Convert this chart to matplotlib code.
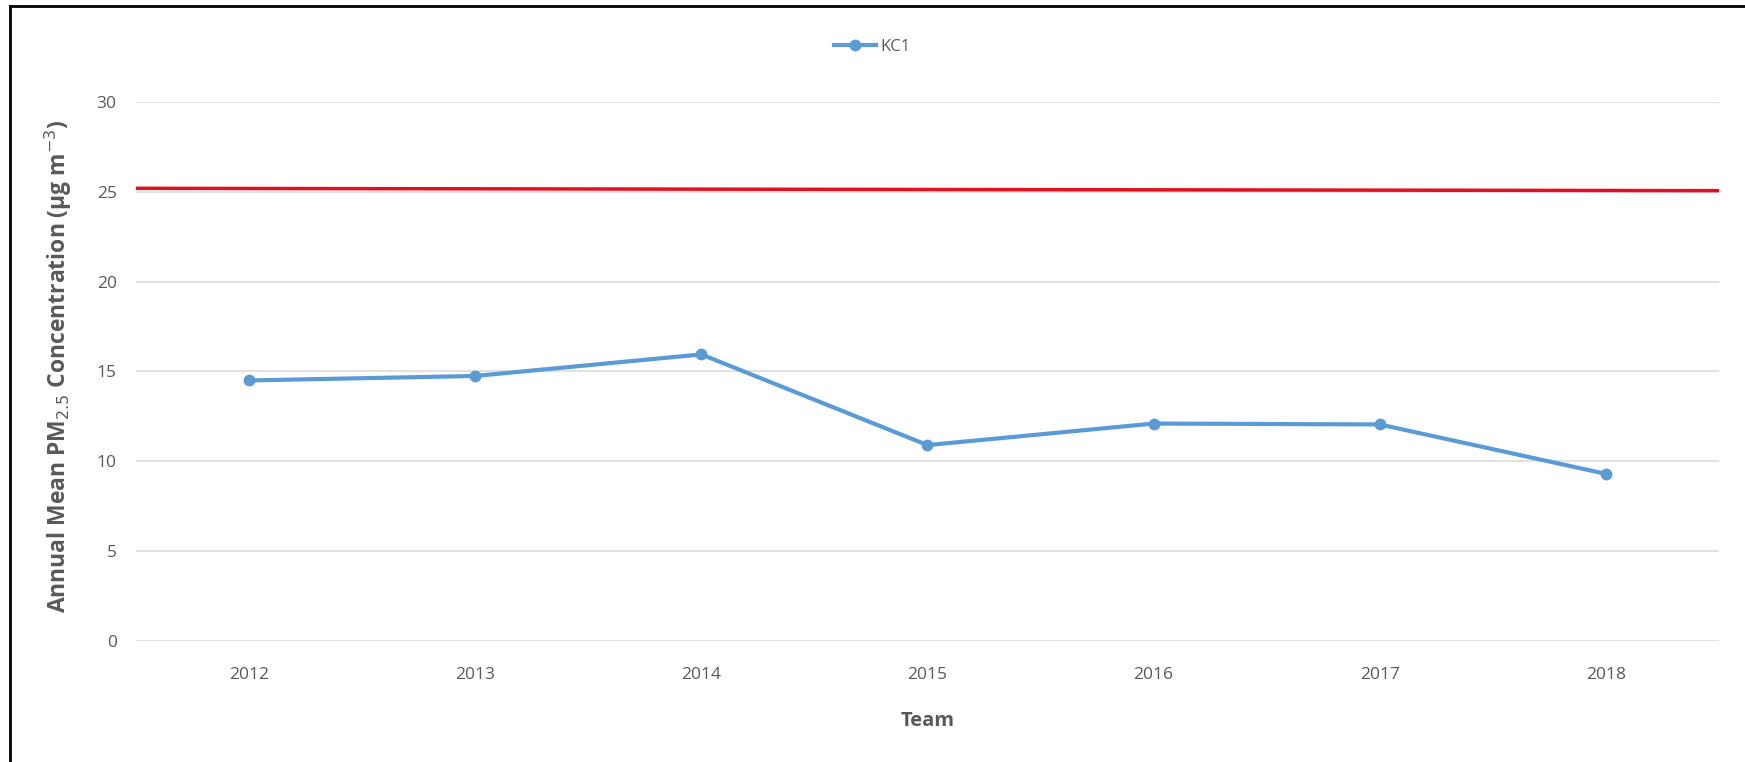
import matplotlib.pyplot as plt
from matplotlib.lines import Line2D

years = ["2012", "2013", "2014", "2015", "2016", "2017", "2018"]
kc1 = [14.5, 14.75, 15.95, 10.9, 12.1, 12.05, 9.3]
limit_ends = [25.2, 25.07]   # red guideline, left and right end
yticks = [0, 5, 10, 15, 20, 25, 30]

blue = "#5B9BD5"
grey = "#595959"

plt.rcParams["font.family"] = ["Open Sans", "DejaVu Sans"]

fig = plt.figure(figsize=(17.45, 7.62), dpi=100)
ax = fig.add_axes([0.078, 0.159, 0.907, 0.707])

x = list(range(len(years)))
ax.plot([-0.5, len(years) - 0.5], limit_ends, color="#E0101E", lw=2.5, zorder=2)
ax.plot(x, kc1, color=blue, lw=3, marker="o", ms=7.5, zorder=3)

ax.set_xlim(-0.5, len(years) - 0.5)
ax.set_ylim(0, 30)
ax.set_xticks(x)
ax.set_xticklabels(years)
ax.set_yticks(yticks)
ax.grid(axis="y", color="#D9D9D9", lw=1.1, zorder=0)
ax.set_axisbelow(True)
for s in ax.spines.values():
    s.set_visible(False)
ax.tick_params(length=0, labelsize=12.5, colors=grey, pad=19)
ax.tick_params(axis="y", pad=14)

ax.set_xlabel("Team", fontsize=14.5, fontweight="bold", color=grey, labelpad=20)
ax.set_ylabel(r"Annual Mean PM$_{2.5}$ Concentration ($\mathregular{\mu}$g m$^{-3}$)",
              fontsize=16.5, fontweight="bold", color=grey)
ax.yaxis.set_label_coords(-0.039, 0.51)

handle = Line2D([], [], color=blue, lw=3, marker="o", ms=7.5)
fig.legend([handle], ["KC1"], loc="center", bbox_to_anchor=(0.5, 0.938),
           frameon=False, fontsize=12, labelcolor=grey, handlelength=2.5,
           handletextpad=0.3)

# outer frame (left and top edges visible in reference)
fig.add_artist(Line2D([0.0058, 0.0058], [0, 0.992], color="black", lw=2,
                      transform=fig.transFigure))
fig.add_artist(Line2D([0.0058, 1.0], [0.992, 0.992], color="black", lw=2,
                      transform=fig.transFigure))

fig.savefig("out.png", dpi=100)
